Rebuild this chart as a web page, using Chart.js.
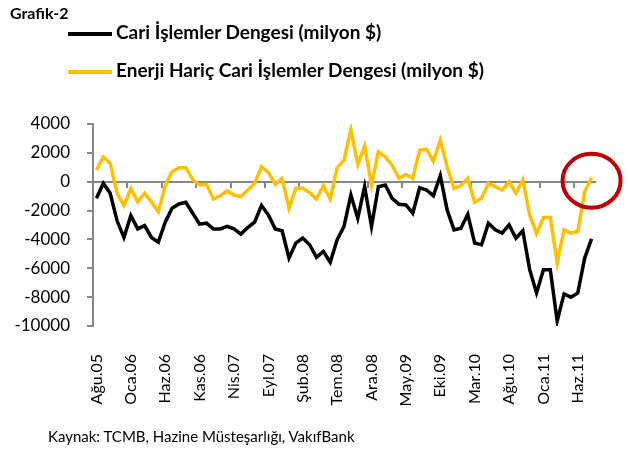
<!DOCTYPE html>
<html>
<head>
<meta charset="utf-8">
<script src="https://cdn.jsdelivr.net/npm/chart.js"></script>
<style>
  body { margin: 0; background: #fff; font-family: Lato, sans-serif; }
  #wrap { position: relative; width: 628px; height: 452px; }
  #chart { position: absolute; left: 0; top: 0; }
  .txt { position: absolute; white-space: nowrap; color: #000; }
  .title { left: 10px; top: 3px; font-size: 16px; font-weight: bold; }
  .leg { left: 68px; font-size: 19px; font-weight: bold; }
  .leg span { display: inline-block; width: 44px; height: 4px; vertical-align: middle; margin-right: 4px; }
  .src { left: 48px; top: 427px; font-size: 15px; }
</style>
</head>
<body>
<div id="wrap">
  <canvas id="chart" width="628" height="452"></canvas>
  <div class="txt title">Grafik-2</div>
  <div class="txt leg" style="top:20px"><span style="background:#000"></span>Cari İşlemler Dengesi (milyon $)</div>
  <div class="txt leg" style="top:58px"><span style="background:#FFC000"></span>Enerji Hariç Cari İşlemler Dengesi (milyon $)</div>
  <div class="txt src">Kaynak: TCMB, Hazine Müsteşarlığı, VakıfBank</div>
</div>
<script>
// Aylar (Ağu.05 - Ağu.11)
const months = [
  'Ağu.05','Eyl.05','Eki.05','Kas.05','Ara.05',
  'Oca.06','Şub.06','Mar.06','Nis.06','May.06','Haz.06','Tem.06','Ağu.06','Eyl.06','Eki.06','Kas.06','Ara.06',
  'Oca.07','Şub.07','Mar.07','Nis.07','May.07','Haz.07','Tem.07','Ağu.07','Eyl.07','Eki.07','Kas.07','Ara.07',
  'Oca.08','Şub.08','Mar.08','Nis.08','May.08','Haz.08','Tem.08','Ağu.08','Eyl.08','Eki.08','Kas.08','Ara.08',
  'Oca.09','Şub.09','Mar.09','Nis.09','May.09','Haz.09','Tem.09','Ağu.09','Eyl.09','Eki.09','Kas.09','Ara.09',
  'Oca.10','Şub.10','Mar.10','Nis.10','May.10','Haz.10','Tem.10','Ağu.10','Eyl.10','Eki.10','Kas.10','Ara.10',
  'Oca.11','Şub.11','Mar.11','Nis.11','May.11','Haz.11','Tem.11','Ağu.11'
];

// Cari İşlemler Dengesi (milyon $)
const cariDenge = [
  -1150, -115, -800, -2710, -3860, -2350, -3270, -3040, -3860, -4190,
  -2800, -1840, -1540, -1430, -2185, -2940, -2875, -3270, -3270, -3100,
  -3270, -3630, -3175, -2800, -1650, -2300, -3270, -3400, -5290, -4250,
  -3900, -4370, -5240, -4830, -5590, -4025, -3100, -920, -2530, -345,
  -3100, -345, -230, -1150, -1560, -1610, -2185, -415, -575, -970,
  415, -1955, -3335, -3220, -2255, -4255, -4370, -2875, -3335, -3565,
  -2990, -3910, -3400, -6095, -7705, -6095, -6095, -9660, -7775, -8000,
  -7705, -5290, -3960
];

// Enerji Hariç Cari İşlemler Dengesi (milyon $)
const enerjiHaric = [
  800, 1725, 1265, -800, -1650, -500, -1400, -800, -1400, -2070,
  -280, 690, 970, 970, 160, -230, -180, -1200, -970, -640,
  -920, -1035, -575, -115, 1035, 640, -180, 230, -1840, -460,
  -460, -740, -1200, -280, -1200, 970, 1500, 3630, 1200, 2480,
  -230, 2070, 1725, 1150, 230, 500, 230, 2185, 2250, 1425,
  2875, 1035, -460, -280, 230, -1425, -1150, -115, -345, -575,
  0, -800, 115, -2300, -3600, -2480, -2480, -5635, -3335, -3565,
  -3450, -690, 275
];

const axisGray = '#868686';
Chart.defaults.font.family = 'Lato';
Chart.defaults.color = '#000';

// Son değeri vurgulayan kırmızı halka
const circlePlugin = {
  id: 'circle',
  afterDraw(chart) {
    const x = chart.scales.x.getPixelForValue(months.length - 1);
    const y = chart.scales.y.getPixelForValue(0);
    const ctx = chart.ctx;
    ctx.save();
    ctx.strokeStyle = '#C00000';
    ctx.lineWidth = 4;
    ctx.beginPath();
    ctx.ellipse(x, y - 1, 29, 27, 0, 0, Math.PI * 2);
    ctx.stroke();
    ctx.restore();
  }
};

new Chart(document.getElementById('chart'), {
  type: 'line',
  data: {
    labels: months,
    datasets: [
      {
        label: 'Cari İşlemler Dengesi (milyon $)',
        data: cariDenge,
        borderColor: '#000',
        borderWidth: 3.5,
        pointRadius: 0,
        tension: 0,
        order: 2
      },
      {
        label: 'Enerji Hariç Cari İşlemler Dengesi (milyon $)',
        data: enerjiHaric,
        borderColor: '#FFC000',
        borderWidth: 3.5,
        pointRadius: 0,
        tension: 0,
        order: 1
      }
    ]
  },
  options: {
    responsive: false,
    animation: false,
    layout: { padding: { top: 124, right: 33, left: 0, bottom: 0 } },
    plugins: { legend: { display: false }, tooltip: { enabled: false } },
    scales: {
      x: {
        type: 'category',
        position: { y: 0 },
        offset: true,
        border: { display: true, color: axisGray, width: 2 },
        grid: {
          offset: true,
          drawOnChartArea: false,
          tickLength: 5,
          lineWidth: 2,
          color: (c) => (c.index % 5 === 0 ? axisGray : 'rgba(0,0,0,0)')
        },
        ticks: { display: false, autoSkip: false },
        afterFit: (s) => { s.paddingLeft = 0; s.paddingRight = 0; }
      },
      x2: {
        type: 'category',
        position: 'bottom',
        offset: true,
        border: { display: false },
        grid: { display: false },
        ticks: {
          autoSkip: false,
          maxRotation: 90,
          minRotation: 90,
          padding: 20,
          font: { size: 16 },
          callback: function (v, i) { return i % 5 === 0 ? months[i] : ''; }
        },
        afterFit: (s) => { s.height = 126; s.paddingLeft = 0; s.paddingRight = 0; }
      },
      y: {
        min: -10000,
        max: 4000,
        border: { display: true, color: axisGray, width: 2 },
        grid: { drawOnChartArea: false, tickLength: 6, color: axisGray, lineWidth: 2 },
        ticks: { stepSize: 2000, padding: 17, font: { size: 17 }, callback: (v) => String(v) },
        afterFit: (s) => { s.width = 93; s.paddingTop = 0; s.paddingBottom = 0; }
      }
    }
  },
  plugins: [circlePlugin]
});
</script>
</body>
</html>
